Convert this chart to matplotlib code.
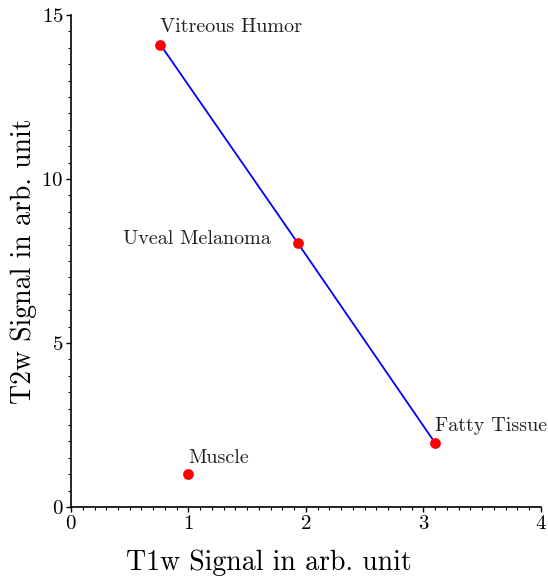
import matplotlib
matplotlib.use("Agg")
import matplotlib.pyplot as plt
from matplotlib.ticker import MultipleLocator

plt.rcParams["font.family"] = "serif"
plt.rcParams["font.serif"] = ["cmr10", "DejaVu Serif"]
plt.rcParams["mathtext.fontset"] = "cm"
plt.rcParams["axes.formatter.use_mathtext"] = True

tissues = ["Vitreous Humor", "Uveal Melanoma", "Fatty Tissue", "Muscle"]
t1_signal = [0.76, 1.93, 3.10, 1.00]
t2_signal = [14.1, 8.05, 1.95, 1.0]
# tissues joined by the line
line_idx = [0, 1, 2]

fig = plt.figure(figsize=(5.48, 5.77), dpi=100)
ax = fig.add_axes([0.1296, 0.1213, 0.8574, 0.8527])

ax.plot([t1_signal[i] for i in line_idx], [t2_signal[i] for i in line_idx],
        color="#0000ff", lw=1.3, zorder=2)
ax.scatter(t1_signal, t2_signal, s=60, color="#ff0000", zorder=3, linewidths=0)

offsets = {
    "Vitreous Humor": ((0, 6), "left", "bottom"),
    "Uveal Melanoma": ((-19, 3), "right", "center"),
    "Fatty Tissue": ((0, 6), "left", "bottom"),
    "Muscle": ((0, 5), "left", "bottom"),
}
for name, x, y in zip(tissues, t1_signal, t2_signal):
    off, ha, va = offsets[name]
    ax.annotate(name, (x, y), xytext=off, textcoords="offset points",
                ha=ha, va=va, fontsize=14.5, color="#222222")

ax.set_xlim(0, 4)
ax.set_ylim(0, 15)
ax.xaxis.set_major_locator(MultipleLocator(1))
ax.xaxis.set_minor_locator(MultipleLocator(0.1))
ax.yaxis.set_major_locator(MultipleLocator(5))
ax.yaxis.set_minor_locator(MultipleLocator(0.5))
ax.tick_params(which="major", direction="out", length=3.5, width=1, labelsize=15, pad=2)
ax.tick_params(which="minor", direction="out", length=2, width=0.8)

for side in ("top", "right"):
    ax.spines[side].set_visible(False)
for side in ("left", "bottom"):
    ax.spines[side].set_linewidth(1.2)

ax.set_xlabel("T1w Signal in arb. unit", fontsize=20)
ax.set_ylabel("T2w Signal in arb. unit", fontsize=20)
ax.xaxis.set_label_coords(0.421, -0.086)
ax.yaxis.set_label_coords(-0.072, 0.5)

fig.savefig("out.png", dpi=100)
